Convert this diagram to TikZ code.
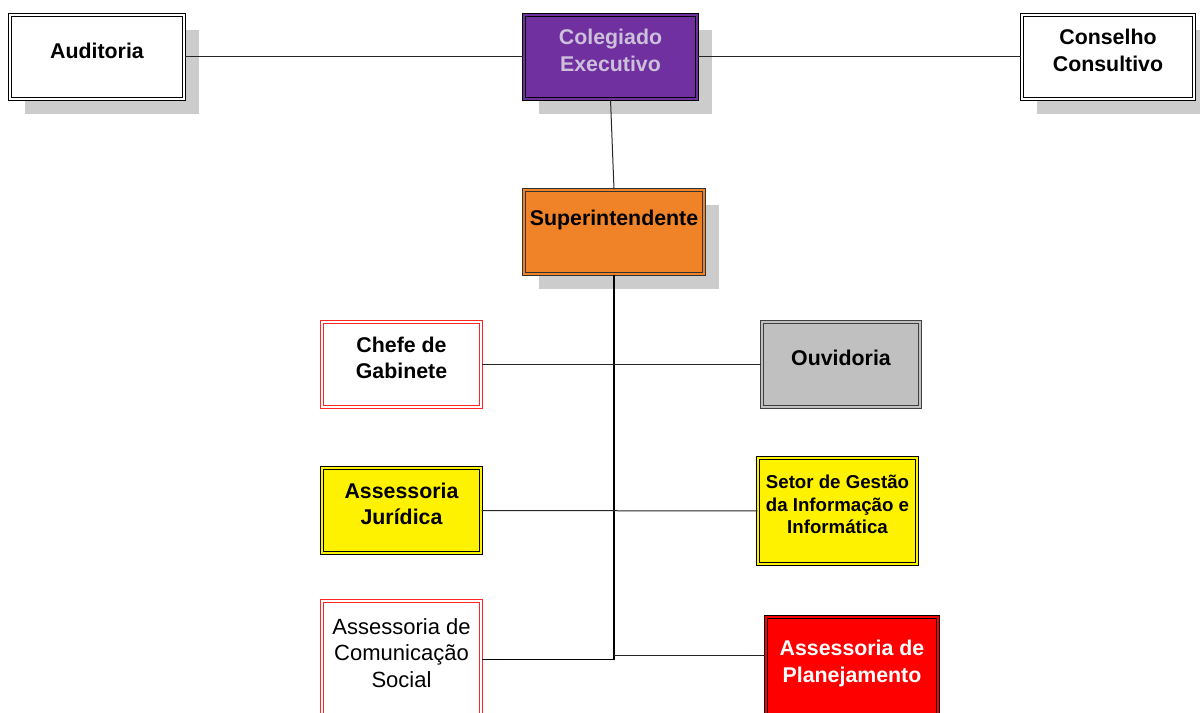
\documentclass[tikz,border=0pt]{standalone}
\usepackage{fontspec}
\setmainfont{Liberation Sans}
\usetikzlibrary{positioning, shadows}

\definecolor{roxo}{HTML}{7030A0}
\definecolor{lilas}{HTML}{CCC0DA}
\definecolor{laranja}{HTML}{F08228}
\definecolor{cinza}{HTML}{C0C0C0}
\definecolor{sombra}{HTML}{CCCCCC}

\begin{document}
\begin{tikzpicture}[
            x=0.75pt, y=-0.75pt, % one unit = one pixel of the original chart
            box/.style={rectangle, draw=black, fill=#1, double=#1, double distance=1.5pt, line width=0.8pt, align=center, inner sep=2pt, text depth=10pt, font=\bfseries\fontsize{16}{20}\selectfont},
            box/.default=white,
            shade/.style={drop shadow={shadow xshift=11.25pt, shadow yshift=-11.25pt, fill=sombra, opacity=1}},
            redbox/.style={box, draw=red!85},
            link/.style={line width=0.75pt, draw=black!85},
            trunk/.style={line width=1pt}
        ]
        \path[use as bounding box, clip] (0,0) rectangle (1200,713);

        % Top level
        \node[box, shade, minimum width=130.5pt, minimum height=63pt] (audit) at (97,57) {Auditoria};
        \node[box=roxo, shade, text=lilas, minimum width=129.75pt, minimum height=63pt] (coleg) at (610.5,57) {Colegiado\\Executivo};
        \node[box, shade, minimum width=129pt, minimum height=63pt] (conselho) at (1108,57) {Conselho\\Consultivo};
        \node[box=laranja, shade, draw=black!80, minimum width=135pt, minimum height=63pt, text depth=21pt] (super) at (614,232) {Superintendente};

        % Advisory units
        \node[redbox, minimum width=119.25pt, minimum height=63.75pt] (chefe) at (401.5,364.5) {Chefe de\\Gabinete};
        \node[box=cinza, draw=black!75, minimum width=118.5pt, minimum height=63.75pt] (ouvid) at (841,364.5) {Ouvidoria};
        \node[box=yellow, minimum width=119.25pt, minimum height=63.75pt] (jurid) at (401.5,510.5) {Assessoria\\Jurídica};
        \node[box=yellow, minimum width=119.25pt, minimum height=79.5pt, font=\bfseries\fontsize{14}{17}\selectfont] (setor) at (837.5,511) {Setor de Gestão\\da Informação e\\Informática};
        \node[redbox, minimum width=119.25pt, minimum height=87.75pt, font=\mdseries\fontsize{16.5}{20}\selectfont] (comun) at (401.5,659.5) {Assessoria de\\Comunicação\\Social};
        \node[box=red, text=white, minimum width=129pt, minimum height=77pt] (plan) at (852,668) {Assessoria de\\Planejamento};

        % Connections
        \draw[link] (audit) -- (coleg);
        \draw[link] (coleg) -- (conselho);
        \draw[link] (coleg.south) -- (super.north);
        \draw[trunk] (super.south) |- (comun.east);
        \draw[link] (chefe) -- (ouvid);
        \draw[link] (jurid) -- (setor);
        \coordinate (jplan) at (super.south |- 0,655);
        \draw[link] (jplan) -- (jplan -| plan.west);
\end{tikzpicture}
\end{document}
